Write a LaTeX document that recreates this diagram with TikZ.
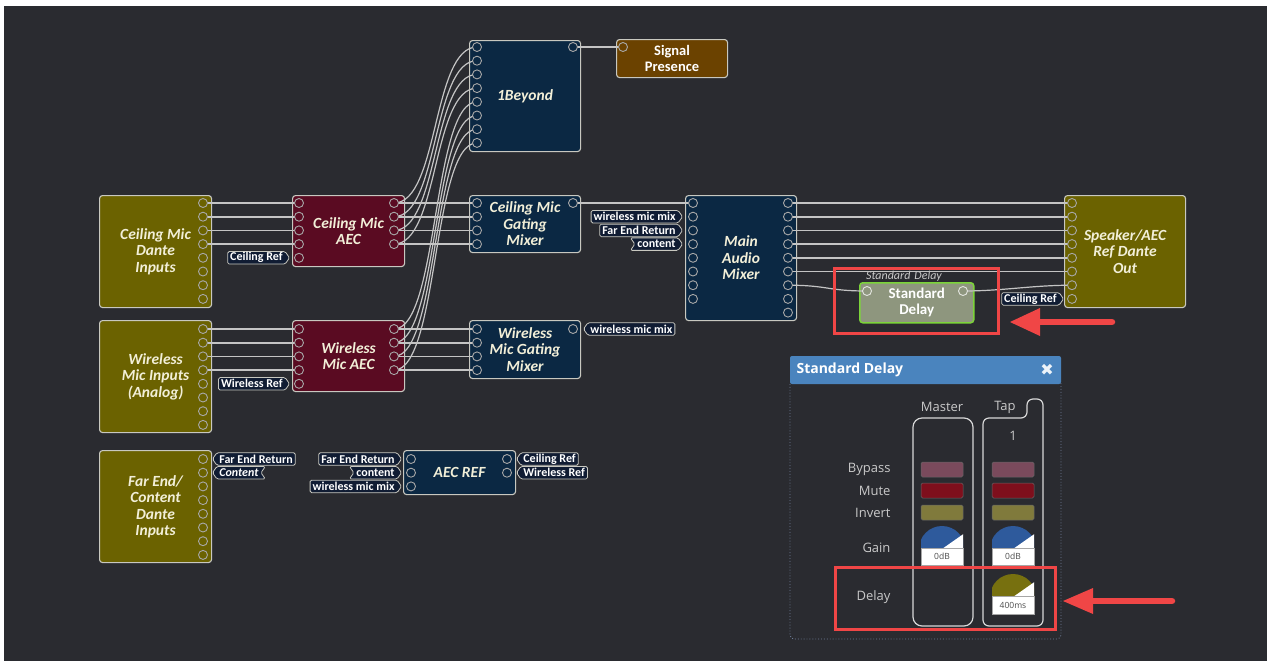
\documentclass[tikz,border=0pt]{standalone}
\usepackage{fontspec}
\setmainfont{Carlito}
\newfontfamily\panelfont{Open Sans}
\newfontfamily\symfont{DejaVu Sans}
\usetikzlibrary{shapes.symbols}
\definecolor{bgc}{HTML}{2A2B30}
\definecolor{olivebox}{HTML}{6B6200}
\definecolor{maroonbox}{HTML}{5A0B22}
\definecolor{navybox}{HTML}{0B2843}
\definecolor{brownbox}{HTML}{6B4200}
\definecolor{boxline}{HTML}{C8C8C0}
\definecolor{txtc}{HTML}{F2EFD8}
\definecolor{wire}{HTML}{C4C4C4}
\definecolor{portc}{HTML}{A8A8A8}
\definecolor{tagfill}{HTML}{101C33}
\definecolor{delayfill}{HTML}{8E967E}
\definecolor{delayline}{HTML}{7CD43A}
\definecolor{hired}{HTML}{F04646}
\definecolor{hdrblue}{HTML}{4A84BE}
\definecolor{panelline}{HTML}{6E7C96}
\definecolor{paneltxt}{HTML}{C9C9C9}
\definecolor{colline}{HTML}{D8D8D8}
\definecolor{bypassc}{HTML}{7A4A5C}
\definecolor{mutec}{HTML}{7E0F1C}
\definecolor{invertc}{HTML}{807A3C}
\definecolor{gainc}{HTML}{2E5A9C}
\definecolor{delayc}{HTML}{77700F}
\newcommand\defports[4]{\foreach \i in {1,...,#4}{\coordinate (#1-\i) at (#2,{#3+(\i-1)*13.7});}}
\newcommand\drawports[3]{\foreach \i in {1,...,#2}{\draw[port,fill=#3] (#1-\i) circle[radius=4.5pt];}}
\begin{document}
\begin{tikzpicture}[x=1pt,y=-1pt,
  box/.style={draw=boxline,line width=1.1pt,rounded corners=3pt,anchor=north west,inner sep=0pt,text=txtc,align=center,font=\fontsize{15.5}{16.5}\selectfont\bfseries\itshape},
  conn/.style={draw=wire,line width=1.7pt},
  port/.style={draw=portc,line width=0.9pt},
  tagbase/.style={signal,draw=boxline,fill=tagfill,text=white,font=\fontsize{12}{12}\selectfont\bfseries,inner xsep=2.5pt,inner ysep=0pt,minimum height=12.5pt,line width=0.8pt,rounded corners=1.5pt,signal pointer angle=110},
  tagR/.style={tagbase,signal to=east,anchor=east},
  tagRn/.style={tagbase,signal to=east,signal from=west,anchor=east},
  tagL/.style={tagbase,signal to=west,anchor=west},
  tagLn/.style={tagbase,signal to=west,signal from=east,anchor=west},
  hilite/.style={draw=hired,line width=3pt},
  btn/.style={rounded corners=1.5pt,draw=black!60,line width=0.5pt},
  rowlbl/.style={anchor=east,text=paneltxt,font=\panelfont\fontsize{13}{14}\selectfont},
  vbox/.style={draw=gray!70,line width=0.6pt,fill=white},
  vtxt/.style={text=black!70,font=\panelfont\fontsize{8.5}{9}\selectfont}
]
\useasboundingbox (0,0) rectangle (1269,662);
\fill[white] (0,0) rectangle (1269,662);
\fill[bgc] (4,6) rectangle (1267,661);

% ---------- blocks ----------
\node[box,fill=olivebox,minimum width=112pt,minimum height=112pt] (cdin) at (99,195) {Ceiling Mic\\Dante\\Inputs};
\node[box,fill=olivebox,minimum width=112pt,minimum height=112pt] (wmin) at (99,320) {Wireless\\Mic Inputs\\(Analog)};
\node[box,fill=olivebox,minimum width=112pt,minimum height=112pt] (fein) at (99,450) {Far End/\\Content\\Dante\\Inputs};
\node[box,fill=maroonbox,minimum width=112pt,minimum height=71pt] (caec) at (292,195) {Ceiling Mic\\AEC};
\node[box,fill=maroonbox,minimum width=112pt,minimum height=71pt] (waec) at (292,320) {Wireless\\Mic AEC};
\node[box,fill=navybox,minimum width=111pt,minimum height=111pt] (beyond) at (469,40) {1Beyond};
\node[box,fill=brownbox,minimum width=111pt,minimum height=38pt,font=\fontsize{14.5}{15.5}\selectfont\bfseries,text=white] (sigp) at (616,39) {Signal\\Presence};
\node[box,fill=navybox,minimum width=111pt,minimum height=57pt] (cgm) at (469,195) {Ceiling Mic\\Gating\\Mixer};
\node[box,fill=navybox,minimum width=111pt,minimum height=58pt] (wgm) at (469,320) {Wireless\\Mic Gating\\Mixer};
\node[box,fill=navybox,minimum width=111pt,minimum height=125pt] (mam) at (685,195) {Main\\Audio\\Mixer};
\node[box,fill=olivebox,minimum width=121pt,minimum height=112pt] (spk) at (1064,195) {Speaker/AEC\\Ref Dante\\Out};
\node[box,fill=navybox,minimum width=112pt,minimum height=44pt] (aecref) at (403,450) {AEC REF};
\node[box,fill=delayfill,draw=delayline,line width=1.5pt,minimum width=114pt,minimum height=40pt,font=\fontsize{15}{16}\selectfont\bfseries,text=white] (sdel) at (859,282) {Standard\\Delay};
\node[text=paneltxt,font=\fontsize{12}{12}\selectfont\itshape] (sdlbl) at (904,276) {Standard\,\,Delay};

% ---------- ports ----------
\defports{cdi}{203}{203}{8}
\defports{wmi}{203}{329}{8}
\defports{fec}{203}{459}{8}
\defports{caI}{299}{203}{5}
\defports{caO}{394}{203}{4}
\defports{waI}{299}{329}{5}
\defports{waO}{394}{329}{4}
\defports{byI}{477}{47}{8}
\defports{byO}{573}{47}{1}
\defports{spI}{623}{47}{1}
\defports{cgI}{477}{203}{4}
\defports{cgO}{573}{203}{1}
\defports{wgI}{477}{329}{4}
\defports{wgO}{573}{329}{1}
\defports{mmI}{693}{203}{8}
\defports{mmO}{788}{203}{9}
\defports{soI}{1072}{203}{8}
\defports{sdI}{867}{291}{1}
\defports{sdO}{963}{291}{1}
\defports{arI}{411}{459}{3}
\defports{arO}{507}{459}{2}

% ---------- connectors ----------
\foreach \i in {1,...,4}{
  \draw[conn] (cdi-\i) -- (caI-\i);
  \draw[conn] (wmi-\i) -- (waI-\i);
  \draw[conn] (caO-\i) -- (cgI-\i);
  \draw[conn] (waO-\i) -- (wgI-\i);
}
\foreach \i in {1,...,4}{
  \pgfmathtruncatemacro\j{\i+4}
  \draw[conn,line width=1.2pt] (caO-\i) .. controls +(45,0) and +(-45,0) .. (byI-\i);
  \draw[conn,line width=1.2pt] (waO-\i) .. controls +(45,0) and +(-45,0) .. (byI-\j);
}
\draw[conn] (byO-1) -- (spI-1);
\draw[conn] (cgO-1) -- (mmI-1);
\foreach \i in {1,...,6}{\draw[conn] (mmO-\i) -- (soI-\i);}
\draw[conn,line width=1.2pt] (mmO-7) .. controls +(40,0) and +(-40,0) .. (sdI-1);
\draw[conn,line width=1.2pt] (sdO-1) .. controls +(40,0) and +(-40,0) .. (soI-7);

% ---------- port circles ----------
\drawports{cdi}{8}{olivebox}
\drawports{wmi}{8}{olivebox}
\drawports{fec}{8}{olivebox}
\drawports{caI}{5}{maroonbox}
\drawports{caO}{4}{maroonbox}
\drawports{waI}{5}{maroonbox}
\drawports{waO}{4}{maroonbox}
\drawports{byI}{8}{navybox}
\drawports{byO}{1}{navybox}
\drawports{spI}{1}{brownbox}
\drawports{cgI}{4}{navybox}
\drawports{cgO}{1}{navybox}
\drawports{wgI}{4}{navybox}
\drawports{wgO}{1}{navybox}
\drawports{mmI}{8}{navybox}
\drawports{mmO}{9}{navybox}
\drawports{soI}{8}{olivebox}
\drawports{arI}{3}{navybox}
\drawports{arO}{2}{navybox}
\draw[port,draw=white!75!delayfill,fill=delayfill] (sdI-1) circle[radius=4.5pt];
\draw[port,draw=white!75!delayfill,fill=delayfill] (sdO-1) circle[radius=4.5pt];

% ---------- tags ----------
\node[tagR,xshift=-9pt] (tg1) at (caI-5) {Ceiling Ref};
\node[tagR,xshift=-9pt] (tg2) at (waI-5) {Wireless Ref};
\node[tagR,xshift=-10pt] (tg3) at (mmI-2) {wireless mic mix};
\node[tagR,xshift=-10pt] (tg4) at (mmI-3) {Far End Return};
\node[tagRn,xshift=-10pt] (tg5) at (mmI-4) {content};
\node[tagR,xshift=-8pt] (tg6) at (soI-8) {Ceiling Ref};
\node[tagL,xshift=10pt] (tg7) at (wgO-1) {wireless mic mix};
\node[tagL,xshift=9pt] (tg8) at (fec-1) {Far End Return};
\node[tagLn,xshift=9pt,font=\fontsize{12}{12}\selectfont\bfseries\itshape] (tg9) at (fec-2) {Content};
\node[tagR,xshift=-9pt] (tg10) at (arI-1) {Far End Return};
\node[tagRn,xshift=-9pt] (tg11) at (arI-2) {content};
\node[tagR,xshift=-9pt] (tg12) at (arI-3) {wireless mic mix};
\node[tagL,xshift=9pt] (tg13) at (arO-1) {Ceiling Ref};
\node[tagL,xshift=9pt] (tg14) at (arO-2) {Wireless Ref};

% ---------- highlight 1 ----------
\draw[hilite] (834,268) rectangle (998,333);
\draw[hired,line width=6.5pt,line cap=round] (1112,322) -- (1034,322);
\fill[hired] (1010,322) -- (1040,308) -- (1040,336) -- cycle;

% ---------- panel ----------
\draw[panelline,dotted,line width=0.9pt,rounded corners=4pt] (790,380) rectangle (1061,639);
\fill[hdrblue,rounded corners=2pt] (790,356) rectangle (1061,384);
\node[anchor=west,text=white,font=\panelfont\fontsize{14}{15}\selectfont\bfseries] (ptitle) at (793,370) {Standard Delay};
\node[text=white!90!hdrblue,font=\symfont\fontsize{16}{16}\selectfont] (pclose) at (1047,370) {✖};
\node[text=paneltxt,font=\panelfont\fontsize{13}{14}\selectfont] (hmaster) at (942,407) {Master};
\node[text=paneltxt,font=\panelfont\fontsize{13}{14}\selectfont] (htap) at (1005,407) {Tap};
\node[text=paneltxt,font=\panelfont\fontsize{13}{14}\selectfont] (htap1) at (1013,436) {1};
\draw[colline,line width=1.2pt,rounded corners=9pt] (913,418) rectangle (973,626);
\draw[colline,line width=1.2pt,rounded corners=6pt] (1027,418) -- (983,418) -- (983,626) -- (1043,626) -- (1043,399) -- (1027,399) -- cycle;
\node[rowlbl] (lbypass) at (894,469) {Bypass};
\node[rowlbl] (lmute) at (894,491) {Mute};
\node[rowlbl] (linvert) at (894,513) {Invert};
\node[rowlbl] (lgain) at (894,548) {Gain};
\node[rowlbl] (ldelay) at (894,597) {Delay};
\foreach \xa in {921,992}{
  \fill[btn,fill=bypassc] (\xa,462) rectangle ++(42,15);
  \fill[btn,fill=mutec] (\xa,483) rectangle ++(42,15);
  \fill[btn,fill=invertc] (\xa,505) rectangle ++(42,15);
  \begin{scope}
    \clip (\xa,524) rectangle ++(42,24);
    \fill[gainc] (\xa+21,549) circle[radius=23pt];
    \fill[white] (\xa+21,549) -- (\xa+21+30,549) -- (\xa+21+30,549-21) -- cycle;
  \end{scope}
  \draw[vbox] (\xa,548) rectangle ++(42,17);
  \node[vtxt] at (\xa+21,556.5) {0dB};
}
\begin{scope}
  \clip (992,572) rectangle ++(42,24);
  \fill[delayc] (1013,597) circle[radius=23pt];
  \fill[white] (1013,597) -- (1043,597) -- (1043,576) -- cycle;
\end{scope}
\draw[vbox] (992,596) rectangle ++(42,18);
\node[vtxt] (v400) at (1013,605) {400ms};

% ---------- highlight 2 ----------
\draw[hilite] (835,567) rectangle (1055,629);
\draw[hired,line width=6.5pt,line cap=round] (1172,601) -- (1088,601);
\fill[hired] (1063,601) -- (1093,588) -- (1093,614) -- cycle;
\end{tikzpicture}
\end{document}
